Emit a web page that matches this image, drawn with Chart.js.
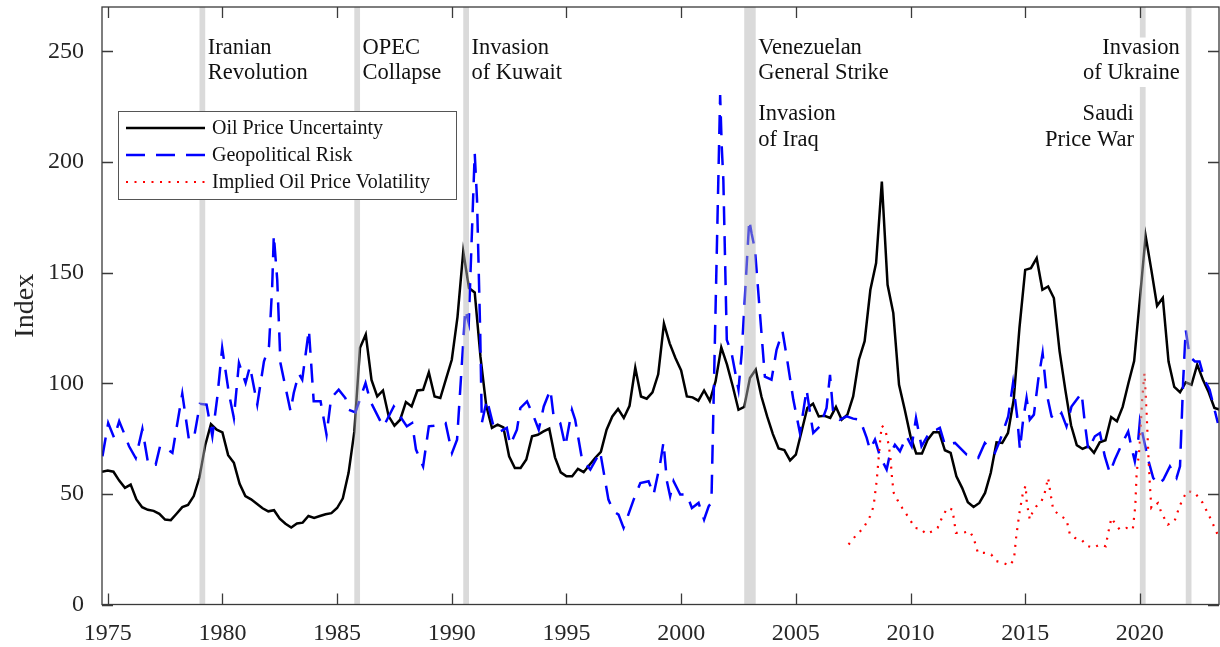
<!DOCTYPE html>
<html>
<head>
<meta charset="UTF-8">
<title>Oil Price Uncertainty and Geopolitical Risk</title>
<script src="https://cdn.jsdelivr.net/npm/chart.js@4.4.1/dist/chart.umd.min.js"></script>
<style>
  html, body { margin: 0; padding: 0; background: #fff; }
</style>
</head>
<body>
<canvas id="chart" width="1220" height="647"></canvas>
<script>
// quarterly oil price uncertainty index, first quarter is 1974Q4
const opuStart = 1974.75;
const opuValues = [
  60,
  60.5, 60, 56, 52.7,   54.2, 47.5, 44, 42.8,   42.3, 41, 38.4, 38.1,   41, 44, 45, 49,
  57.5, 72, 81.5, 79,   77.8, 67.5, 64, 54.5,   49, 47.5, 45.5, 43.5,   42.1, 42.6, 38.8, 36.5,
  34.8, 36.6, 37, 40,   39.1, 40, 40.8, 41.3,   43.6, 48, 59.5, 78,     116, 122, 101.5, 94,
  96.7, 85, 80.8, 83.5, 91.5, 89.5, 96.7, 97,   104.9, 94, 93.3, 102,   110.6, 130, 159.5, 143,
  141, 112, 90, 79.8,   81.3, 80, 67, 61.7,     61.7, 65.5, 76, 76.7,   78.2, 79.5, 66.5, 59.7,
  57.9, 57.9, 61.3, 59.8, 63, 66.2, 69, 79,     85, 88.4, 84.3, 89.8,   107, 94, 93, 95.9,
  104, 126.9, 118, 111.4, 105.8, 94, 93.6, 92.1, 96.7, 92, 100.8, 116.2, 108.4, 98.6, 88, 89.3,
  102.3, 106.1, 94, 85, 77, 70.5, 69.8, 65.1,   67.7, 78.2, 88.8, 90.7, 85, 85.3, 84.3, 89.3,
  83.5, 85.8, 94, 110.6, 119, 142.2, 154.3, 191.1, 144.5, 131.7, 99.3, 88, 76, 68.2, 68.2, 74.5,
  77.8, 77.8, 69.7, 68.5, 57.9, 52.7, 46.2, 44.1, 45.9, 50.4, 59.5, 73.3, 73, 77.5, 92.6, 125,
  151.2, 152, 156.5, 142.2, 143.7, 138.5, 114.4, 97, 81, 72, 70.3, 71.5, 68.5, 73.3, 74.2, 84.7,
  82.8, 89.3, 100, 110, 138, 166.6, 151.2, 135, 138.5, 109.8, 98.3, 95.9, 100.4, 99.3, 108.4, 101.6,
  95.9, 88.8, 88
];
const opuYears = opuValues.map((v, i) => opuStart + i * 0.25);

// geopolitical risk [year, index]
const gprPoints = [
  [1974.77,67],[1975.02,82],[1975.28,75.3],[1975.5,82.8],[1975.71,77.5],[1975.93,71.5],[1976.22,66.2],
  [1976.51,79.3],[1976.77,63.2],[1977.09,63.2],[1977.28,71.5],[1977.53,70.7],[1977.82,68.5],[1978.25,95.3],
  [1978.54,74.5],[1978.76,75.3],[1979.02,90.7],[1979.31,90.3],[1979.56,76],[1979.78,94],[1979.99,115.9],
  [1980.28,95.6],[1980.5,84.3],[1980.72,109.1],[1981.01,100.1],[1981.2,107.6],[1981.52,90.3],[1981.81,109.8],
  [1982.03,116.6],[1982.17,143.7],[1982.24,167],[1982.39,146.7],[1982.53,109.1],[1982.97,87.3],[1983.11,95.6],
  [1983.33,104.3],[1983.48,101.6],[1983.77,124.2],[1983.98,91.8],[1984.28,91.8],[1984.54,76.7],[1984.74,93.3],
  [1985.07,97.1],[1985.36,93.3],[1985.51,88],[1985.8,86.8],[1986.24,100.1],[1986.45,91.8],[1986.89,82.8],
  [1987.03,80.5],[1987.47,89.5],[1987.75,85],[1988.04,80.5],[1988.27,82],[1988.44,70],[1988.75,62.4],
  [1989.0,80.5],[1989.22,80.8],[1989.73,82],[1990.01,68.5],[1990.23,74.5],[1990.59,133.2],[1990.74,127.2],
  [1991.0,204],[1991.1,183],[1991.24,122.6],[1991.31,82],[1991.53,92.6],[1991.82,80.5],[1992.11,78.2],
  [1992.4,79.8],[1992.55,72.2],[1992.84,79],[1992.99,88.8],[1993.28,91.8],[1993.57,85],[1993.79,79],
  [1994.01,89.5],[1994.3,97.1],[1994.44,85],[1994.73,82],[1994.95,71.5],[1995.24,88],[1995.38,83.5],
  [1995.68,65.5],[1996.04,61],[1996.47,69],[1996.83,47.4],[1997.05,42.1],[1997.27,40.6],[1997.49,34.6],
  [1997.93,47.4],[1998.22,54.9],[1998.58,55.7],[1998.8,49.7],[1999.09,64],[1999.23,73.3],[1999.38,55.7],
  [1999.52,48.9],[1999.67,55.7],[1999.96,49.7],[2000.25,49.7],[2000.47,43.6],[2000.76,45.9],[2001.0,38.4],
  [2001.2,44.4],[2001.32,46],[2001.7,230.2],[2001.77,207],[2001.84,191.9],[2001.99,119.6],[2002.2,113.6],
  [2002.5,97.1],[2002.64,113.6],[2002.97,173.8],[2003.07,167.8],[2003.22,160.3],[2003.65,103],[2003.94,101.6],
  [2004.16,115.1],[2004.42,123.4],[2004.6,112.1],[2004.89,92.6],[2005.18,77.5],[2005.47,97.1],[2005.62,86.5],
  [2005.76,77.5],[2006.05,80.5],[2006.34,88.8],[2006.49,103.8],[2006.63,86.5],[2006.92,83.5],[2007.22,85],
  [2007.5,84],[2007.8,83.5],[2008.09,75.3],[2008.23,70],[2008.45,74.5],[2008.67,67],[2008.96,61],
  [2009.1,67.7],[2009.32,72.2],[2009.54,69.2],[2009.83,76],[2010.05,71.5],[2010.24,84.3],[2010.48,71.5],
  [2010.85,78.2],[2011.14,79],[2011.28,79.8],[2011.5,72.2],[2011.94,73],[2012.45,67.7],[2012.95,66.2],
  [2013.24,73],[2013.68,68.5],[2013.89,73.8],[2014.26,85],[2014.47,100.1],[2014.65,85],[2014.77,70],
  [2014.91,83.5],[2015.06,93.3],[2015.2,83.5],[2015.38,85.8],[2015.57,101.6],[2015.76,113.6],[2015.93,95.6],
  [2016.15,85],[2016.37,83.5],[2016.58,86.5],[2016.8,80.5],[2017.02,89.5],[2017.46,95.6],[2017.6,82],
  [2017.75,70],[2018.04,76],[2018.26,77.5],[2018.47,67],[2018.69,59.5],[2018.91,65.5],[2019.2,72.2],
  [2019.49,78.2],[2019.64,70.7],[2019.78,64.7],[2019.93,74.5],[2020.0,82.8],[2020.14,76],[2020.36,65.5],
  [2020.58,57.2],[2020.8,54.2],[2021.02,56.4],[2021.31,62.4],[2021.6,57.2],[2021.75,62.4],[2021.89,101.6],
  [2022.0,124.2],[2022.17,112.1],[2022.4,109.8],[2022.6,109.8],[2022.82,101.6],[2023.04,97.1],[2023.4,82]
];

// implied oil price volatility [year, index]
const ovxPoints = [
  [2007.3,27.1],[2007.59,30.8],[2007.95,34.6],[2008.24,39.9],[2008.39,44.4],[2008.53,56.4],[2008.68,74.5],
  [2008.75,80.8],[2008.9,79],[2009.03,73],[2009.12,67],[2009.2,56.4],[2009.27,50.4],[2009.42,47.4],
  [2009.64,43.6],[2009.93,39.1],[2010.2,34.6],[2010.45,34.2],[2010.67,31.9],[2010.96,33.1],[2011.18,34.6],
  [2011.4,39.9],[2011.61,43.6],[2011.83,42.9],[2011.98,32.4],[2012.27,32.4],[2012.58,33.1],[2012.75,30.1],
  [2012.94,23.3],[2013.23,23.3],[2013.52,22.6],[2013.74,19.6],[2014.03,18.8],[2014.32,17.6],[2014.51,20.3],
  [2014.61,30.8],[2014.75,41.4],[2014.9,50.4],[2015.02,53.7],[2015.07,45.9],[2015.2,38.4],[2015.31,41.4],
  [2015.49,44.4],[2015.71,46.6],[2015.85,50.4],[2016.0,57.2],[2016.1,50.4],[2016.22,42.9],[2016.51,40.2],
  [2016.8,38.4],[2016.95,31.6],[2017.16,30.1],[2017.46,29.3],[2017.68,26.6],[2017.96,25.6],[2018.26,27.1],
  [2018.51,26.3],[2018.62,32.4],[2018.76,39.1],[2018.9,36.9],[2019.12,33.9],[2019.4,34.6],[2019.69,33.9],
  [2019.8,44.4],[2019.86,59.5],[2019.98,70],[2020.1,92.6],[2020.2,104.6],[2020.3,85],[2020.38,65.5],
  [2020.44,53.4],[2020.5,43.6],[2020.79,45.9],[2020.94,41.4],[2021.22,36.1],[2021.51,37.6],[2021.73,44.4],
  [2021.88,47.7],[2022.05,51.2],[2022.38,50.7],[2022.74,45.9],[2023.1,38.4],[2023.39,31.6]
];

const seriesNames = ['Oil Price Uncertainty', 'Geopolitical Risk', 'Implied Oil Price Volatility'];
const xTickValues = [1975, 1980, 1985, 1990, 1995, 2000, 2005, 2010, 2015, 2020];
const yTickValues = [0, 50, 100, 150, 200, 250];

// shaded event quarters
const bandStart = [1979.0, 1985.75, 1990.5, 2002.75, 2020.0, 2022.0];
const bandEnd   = [1979.25, 1986.0, 1990.75, 2003.25, 2020.25, 2022.25];

// event labels: text lines, anchor year, side of the anchor, row
const eventLabels = [
  ['Iranian', 'Revolution'], ['OPEC', 'Collapse'], ['Invasion', 'of Kuwait'],
  ['Venezuelan', 'General Strike'], ['Invasion', 'of Iraq'],
  ['Invasion', 'of Ukraine'], ['Saudi', 'Price War']
];
const labelAnchor = [1979.25, 1986.0, 1990.75, 2003.25, 2003.25, 2022.0, 2020.0];
const labelSide = ['right', 'right', 'right', 'right', 'right', 'left', 'left'];
const labelRow = [0, 0, 0, 0, 1, 0, 1];

const SERIF = '"Liberation Serif", "Times New Roman", serif';
const AXIS_COLOR = '#3a3a3a';

const overlay = {
  id: 'overlay',
  afterDatasetsDraw(chart) {
    const { ctx, chartArea: a, scales: { x, y } } = chart;
    ctx.save();

    // event bands sit over the lines, semi transparent
    ctx.fillStyle = 'rgba(177,177,177,0.48)';
    bandStart.forEach((s, i) => {
      const x0 = x.getPixelForValue(s);
      const x1 = x.getPixelForValue(bandEnd[i]);
      ctx.fillRect(x0, a.top, x1 - x0, a.bottom - a.top);
    });

    // event labels with white background
    ctx.font = '22.5px ' + SERIF;
    ctx.textBaseline = 'alphabetic';
    const rowBase = [[46.5, 72], [113, 138.5]];
    eventLabels.forEach((lines, i) => {
      const px = x.getPixelForValue(labelAnchor[i]);
      const right = labelSide[i] === 'right';
      const tx = right ? px + 2.5 : px - 6;
      const base = rowBase[labelRow[i]].map(b => a.top + b);
      const w = Math.max(...lines.map(t => ctx.measureText(t).width));
      ctx.fillStyle = '#fff';
      ctx.fillRect(right ? tx - 1 : tx - w - 1, base[0] - 16, w + 3, base[1] - base[0] + 24);
      ctx.fillStyle = '#111';
      ctx.textAlign = right ? 'left' : 'right';
      lines.forEach((t, k) => ctx.fillText(t, tx, base[k]));
    });

    // box and inward ticks
    ctx.strokeStyle = AXIS_COLOR;
    ctx.lineWidth = 1.3;
    ctx.strokeRect(a.left, a.top, a.right - a.left, a.bottom - a.top);
    ctx.beginPath();
    xTickValues.forEach(v => {
      const px = Math.round(x.getPixelForValue(v)) + 0.5;
      ctx.moveTo(px, a.bottom); ctx.lineTo(px, a.bottom - 11);
      ctx.moveTo(px, a.top); ctx.lineTo(px, a.top + 11);
    });
    yTickValues.forEach(v => {
      const py = Math.round(y.getPixelForValue(v)) + 0.5;
      ctx.moveTo(a.left, py); ctx.lineTo(a.left + 11, py);
      ctx.moveTo(a.right, py); ctx.lineTo(a.right - 11, py);
    });
    ctx.stroke();

    // legend
    const lx = a.left + 16, ly = a.top + 104, lw = 338, lh = 88;
    ctx.fillStyle = '#fff';
    ctx.fillRect(lx, ly, lw, lh);
    ctx.lineWidth = 1;
    ctx.strokeStyle = '#555';
    ctx.strokeRect(lx + 0.5, ly + 0.5, lw, lh);
    ctx.font = '20px ' + SERIF;
    ctx.textAlign = 'left';
    ctx.textBaseline = 'middle';
    chart.data.datasets.forEach((ds, i) => {
      const ry = ly + 17 + i * 27;
      ctx.beginPath();
      ctx.strokeStyle = ds.borderColor;
      ctx.lineWidth = ds.borderWidth;
      ctx.setLineDash(ds.borderDash || []);
      ctx.moveTo(lx + 8, ry);
      ctx.lineTo(lx + 87, ry);
      ctx.stroke();
      ctx.setLineDash([]);
      ctx.fillStyle = '#111';
      ctx.fillText(ds.label, lx + 94, ry + 1);
    });

    ctx.restore();
  }
};

new Chart(document.getElementById('chart'), {
  type: 'line',
  data: {
    datasets: [
      {
        label: seriesNames[0],
        data: opuYears.map((yr, i) => ({ x: yr, y: opuValues[i] })),
        borderColor: '#000',
        borderWidth: 2.5,
        order: 3
      },
      {
        label: seriesNames[1],
        data: gprPoints.map(p => ({ x: p[0], y: p[1] })),
        borderColor: '#0000ff',
        borderWidth: 2.5,
        borderDash: [19, 11],
        order: 2
      },
      {
        label: seriesNames[2],
        data: ovxPoints.map(p => ({ x: p[0], y: p[1] })),
        borderColor: '#ff0000',
        borderWidth: 2.2,
        borderDash: [2, 6.5],
        order: 1
      }
    ]
  },
  options: {
    responsive: false,
    animation: false,
    elements: { point: { radius: 0 }, line: { tension: 0, fill: false } },
    layout: { padding: { left: 0, right: 1, top: 7, bottom: 0 } },
    plugins: { legend: { display: false }, tooltip: { enabled: false } },
    scales: {
      x: {
        type: 'linear',
        min: 1974.75,
        max: 2023.45,
        grid: { display: false, drawTicks: false },
        border: { display: false },
        ticks: {
          font: { family: SERIF, size: 24 },
          color: '#262626',
          padding: 15,
          maxRotation: 0,
          autoSkip: false,
          callback: v => String(v)
        },
        afterBuildTicks: s => { s.ticks = xTickValues.map(v => ({ value: v })); },
        afterFit: s => { s.height = 42.5; s.paddingLeft = 0; s.paddingRight = 0; }
      },
      y: {
        min: 0,
        max: 270,
        grid: { display: false, drawTicks: false },
        border: { display: false },
        ticks: {
          font: { family: SERIF, size: 24 },
          color: '#262626',
          padding: 18,
          callback: v => String(v)
        },
        title: {
          display: true,
          text: 'Index',
          font: { family: SERIF, size: 28 },
          color: '#262626',
          padding: { top: 9, bottom: 0 }
        },
        afterBuildTicks: s => { s.ticks = yTickValues.map(v => ({ value: v })); },
        afterFit: s => { s.width = 102; s.paddingTop = 0; s.paddingBottom = 0; }
      }
    }
  },
  plugins: [overlay]
});
</script>
</body>
</html>
